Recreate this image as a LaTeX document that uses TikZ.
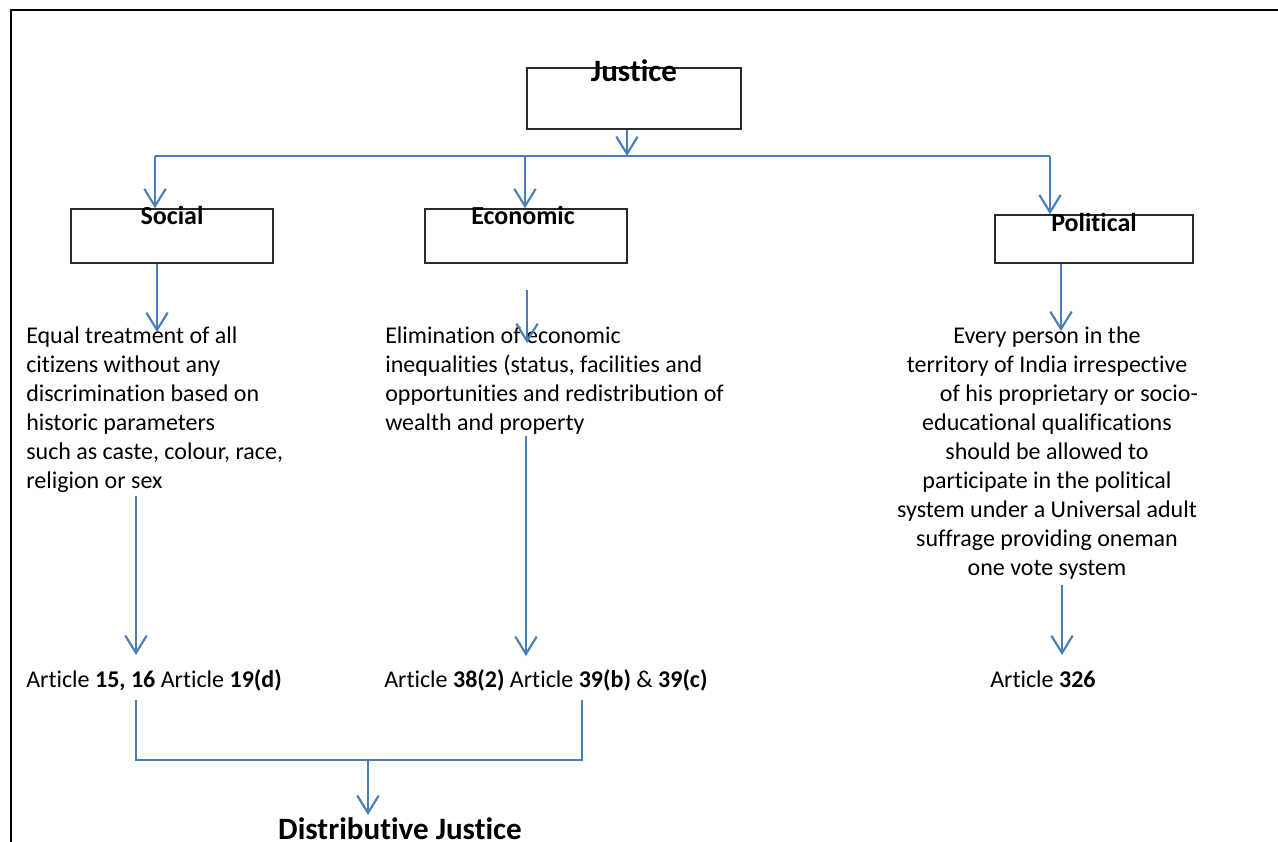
\documentclass[tikz,border=0pt]{standalone}
\usepackage{fontspec}
\setmainfont{Carlito}[Ligatures=NoCommon]
\usetikzlibrary{arrows.meta}
\definecolor{flow}{HTML}{4A7EBB}
\definecolor{boxline}{HTML}{2A2A2A}
\begin{document}
\begin{tikzpicture}[x=0.75pt,y=-0.75pt,
  box/.style={draw=boxline,line width=1.1pt,inner sep=0pt,rectangle},
  title/.style={font=\fontsize{23.3pt}{28pt}\selectfont\bfseries,inner sep=0pt,anchor=base},
  head/.style={font=\fontsize{19.5pt}{24pt}\selectfont\bfseries,inner sep=0pt,anchor=base},
  body/.style={font=\fontsize{18pt}{21.75pt}\selectfont,inner sep=0pt},
  link/.style={draw=flow,line width=1.6pt},
  flowarrow/.style={link,-{Straight Barb[length=13pt,width=16pt,line width=1.6pt]}}]
\useasboundingbox (0,0) rectangle (1278,842);

% page frame
\draw[line width=1.6pt] (11,842) -- (11,10) -- (1278,10);

% top box
\node[box,minimum width=160.5pt,minimum height=45.75pt] (just) at (634,98.5) {};
\node[title] (justT) at (634,82) {Justice};

% three branch boxes
\node[box,minimum width=151.5pt,minimum height=40.5pt] (social) at (172,236) {};
\node[head] (socialT) at (172,224) {Social};
\node[box,minimum width=151.5pt,minimum height=40.5pt] (econ) at (526,236) {};
\node[head] (econT) at (523,224) {Economic};
\node[box,minimum width=148.5pt,minimum height=36pt] (polit) at (1094,239) {};
\node[head] (politT) at (1094,231) {Political};

% distribution line under the top box
\coordinate (hub) at (627,156);
\coordinate (hubL) at (155,156);
\coordinate (hubE) at (525,156);
\coordinate (hubR) at (1050,156);
\draw[flowarrow] (just.south -| hub) -- (hub);
\draw[link] (hubL) -- (hubR);
\draw[flowarrow] (hubL) -- (social.north -| hubL);
\draw[flowarrow] (hubE) -- (econ.north -| hubE);
\draw[flowarrow] (hubR) -- (polit.north -| hubR);

% descriptions (anchored on the baseline of their last line, 29px apart)
\node[body,anchor=base west,align=left] (socText) at (26,488)
  {Equal treatment of all\\citizens without any\\discrimination based on\\historic parameters\\such as caste, colour, race,\\religion or sex};
\node[body,anchor=base west,align=left] (econText) at (385,430)
  {Elimination of economic\\inequalities (status, facilities and\\opportunities and redistribution of\\wealth and property};
\node[body,anchor=base,align=center] (politText) at (1047,575)
  {Every person in the\\territory of India irrespective\\\hspace*{33pt}of his proprietary or socio-\\educational qualifications\\should be allowed to\\participate in the political\\system under a Universal adult\\suffrage providing oneman\\one vote system};

\coordinate (socIn) at (157,332);
\coordinate (econFrom) at (527,290);
\coordinate (econIn) at (527,343);
\coordinate (politIn) at (1061,331);
\draw[flowarrow] (social.south -| socIn) -- (socIn);
\draw[flowarrow] (econFrom) -- (econIn);
\draw[flowarrow] (polit.south -| politIn) -- (politIn);

% articles
\node[body,anchor=base west] (artS) at (26,687)
  {Article \textbf{15, 16} Article \textbf{19(d)}};
\node[body,anchor=base west] (artE) at (384,687)
  {Article \textbf{38(2)} Article \textbf{39(b)} \& \textbf{39(c)}};
\node[body,anchor=base west] (artP) at (990,687)
  {Article \textbf{326}};

\coordinate (socOut) at (136,496);
\coordinate (socTip) at (136,655);
\coordinate (econOut) at (526,436);
\coordinate (econTip) at (526,656);
\coordinate (politOut) at (1062,585);
\coordinate (politTip) at (1062,655);
\draw[flowarrow] (socOut) -- (socTip);
\draw[flowarrow] (econOut) -- (econTip);
\draw[flowarrow] (politOut) -- (politTip);

% bracket joining social and economic articles
\coordinate (brL) at (136,700);
\coordinate (brR) at (582,700);
\coordinate (brMid) at (368,760);
\draw[link] (brL) -- (brL |- brMid) -- (brR |- brMid) -- (brR);
\node[title] (dist) at (400,839) {Distributive Justice};
\draw[flowarrow] (brMid) -- (brMid |- 0,815);
\end{tikzpicture}
\end{document}
